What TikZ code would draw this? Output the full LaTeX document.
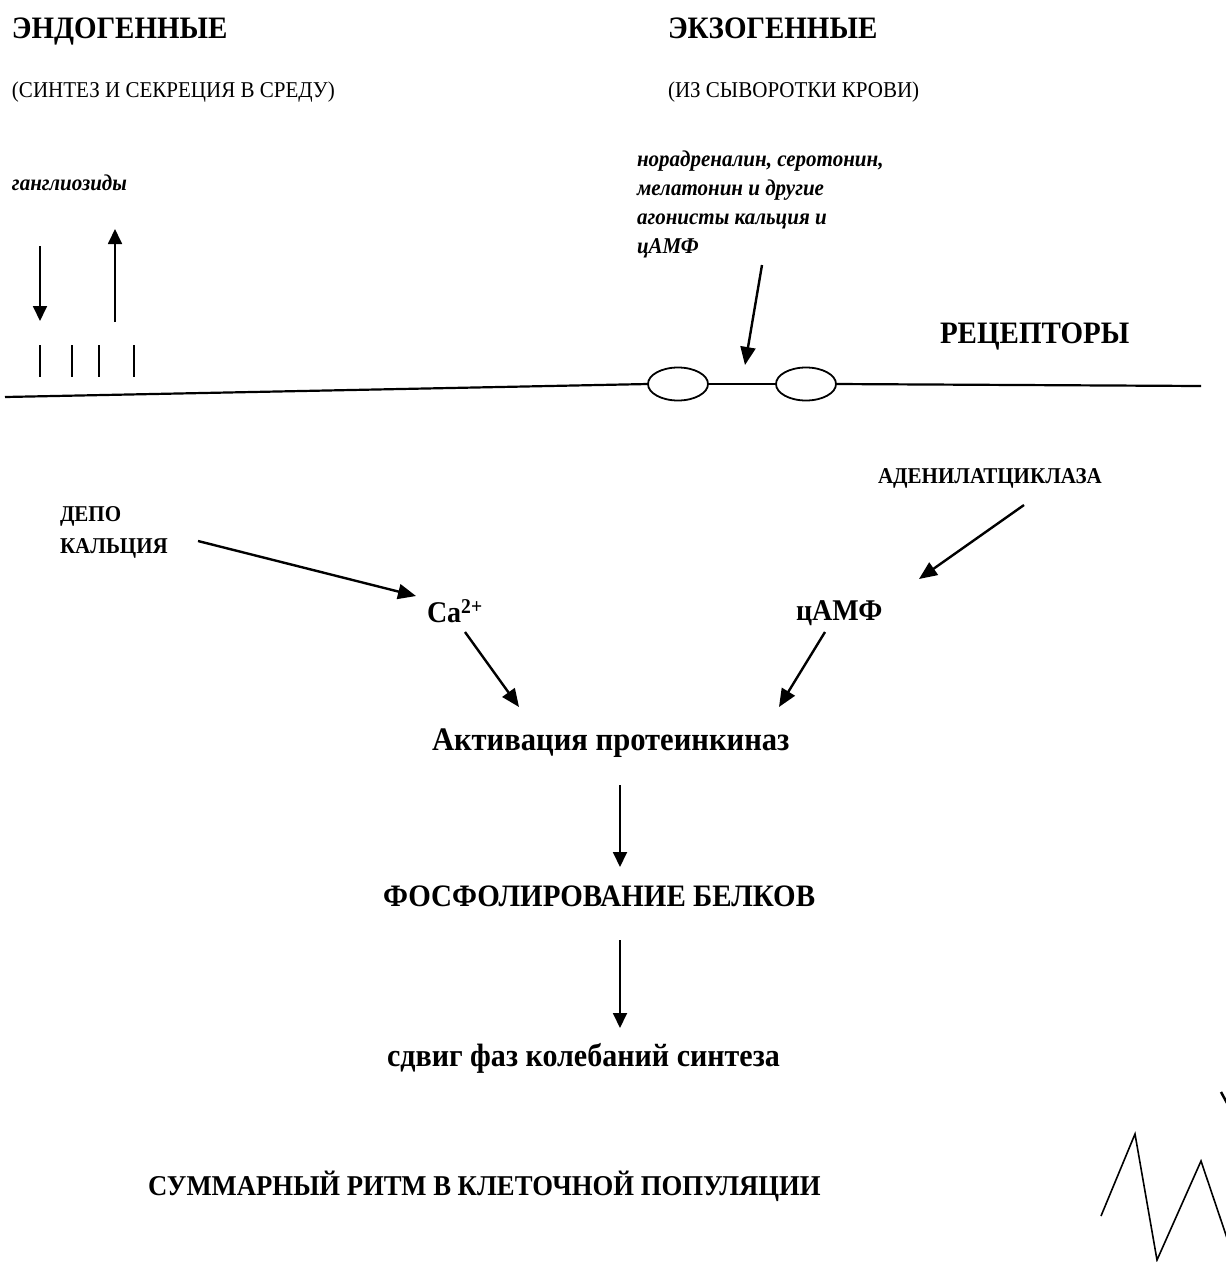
\documentclass[tikz,border=0pt]{standalone}
\usepackage{fontspec}
\setmainfont{Liberation Serif}[FakeStretch=0.93]
\usetikzlibrary{arrows.meta,shapes.geometric}
\begin{document}
\begin{tikzpicture}[x=1pt,y=-1pt,
  every node/.style={inner sep=0pt,outer sep=0pt,anchor=west},
  headtxt/.style={font=\fontsize{31.2}{36}\selectfont\bfseries},
  subtxt/.style={font=\fontsize{22.6}{27}\selectfont},
  bitxt/.style={font=\fontsize{22.6}{29}\selectfont\bfseries\itshape,align=left},
  smalltxt/.style={font=\fontsize{22.6}{32}\selectfont\bfseries,align=left},
  midtxt/.style={font=\fontsize{30.1}{36}\selectfont\bfseries},
  arr/.style={line width=2.4pt,-{Triangle[length=18pt,width=15pt]}},
  thinarr/.style={line width=1.8pt,-{Triangle[length=15pt,width=14pt]}},
  mem/.style={line width=2.2pt},
  recept/.style={draw,line width=1.8pt,ellipse,minimum width=60pt,minimum height=33pt,anchor=center}]
\fill[white] (0,0) rectangle (1226,1262);
\useasboundingbox (0,0) rectangle (1226,1262);

% headings
\node[headtxt,anchor=base west] (endo) at (12,38) {ЭНДОГЕННЫЕ};
\node[headtxt,anchor=base west] (exo) at (668,38) {ЭКЗОГЕННЫЕ};
\node[subtxt,anchor=base west] (endosub) at (12,97) {(СИНТЕЗ И СЕКРЕЦИЯ В СРЕДУ)};
\node[subtxt,anchor=base west] (exosub) at (668,97) {(ИЗ СЫВОРОТКИ КРОВИ)};

% gangliosides
\node[bitxt] (gang) at (12,183) {ганглиозиды};
\coordinate (dA) at (40,246);
\coordinate (dB) at (40,321);
\coordinate (uA) at (115,322);
\coordinate (uB) at (115,229);
\draw[thinarr] (dA) -- (dB);
\draw[thinarr] (uA) -- (uB);
\foreach \i/\x in {1/40,2/72,3/99,4/134}{
  \coordinate (t\i a) at (\x,345);
  \coordinate (t\i b) at (\x,377);
  \draw[line width=1.8pt] (t\i a) -- (t\i b);
}

% exogenous agonists
\node[bitxt,anchor=north west] (agon) at (637,151) {норадреналин, серотонин,\\мелатонин и другие\\агонисты кальция и\\цАМФ};
\coordinate (agA) at (762,265);
\coordinate (agB) at (745,365);
\draw[arr] (agA) -- (agB);

\node[headtxt] (rec) at (940,336) {РЕЦЕПТОРЫ};

% membrane with receptors
\node[recept] (r1) at (678,384) {};
\node[recept] (r2) at (806,384) {};
\coordinate (mL) at (5,397);
\coordinate (mR) at (1201,386);
\draw[mem] (mL) -- (r1.west);
\draw[mem] (r1.east) -- (r2.west);
\draw[mem] (r2.east) -- (mR);

% second messengers
\node[smalltxt] (aden) at (878,478) {АДЕНИЛАТЦИКЛАЗА};
\node[smalltxt,anchor=north west] (depo) at (60,507) {ДЕПО\\КАЛЬЦИЯ};
\node[midtxt] (ca) at (427,611) {Ca\textsuperscript{2+}};
\node[midtxt] (camp) at (796,613) {цАМФ};
\coordinate (dpA) at (198,541);
\coordinate (dpB) at (416,596);
\draw[arr] (dpA) -- (dpB);
\coordinate (adA) at (1024,505);
\coordinate (adB) at (919,579);
\draw[arr] (adA) -- (adB);

\node[midtxt,font=\fontsize{32.9}{38}\selectfont\bfseries] (akt) at (432,743) {Активация протеинкиназ};
\coordinate (caA) at (465,632);
\coordinate (caB) at (519,707);
\draw[arr] (caA) -- (caB);
\coordinate (cmA) at (825,632);
\coordinate (cmB) at (779,707);
\draw[arr] (cmA) -- (cmB);

\coordinate (k1) at (620,785);
\coordinate (k2) at (620,867);
\draw[thinarr] (k1) -- (k2);
\node[headtxt] (phos) at (383,896) {ФОСФОЛИРОВАНИЕ БЕЛКОВ};
\coordinate (p1) at (620,940);
\coordinate (p2) at (620,1028);
\draw[thinarr] (p1) -- (p2);
\node[midtxt,font=\fontsize{32.3}{38}\selectfont\bfseries] (shift) at (387,1058) {сдвиг фаз колебаний синтеза};

\node[headtxt,font=\fontsize{28.7}{34}\selectfont\bfseries] (sum) at (148,1186) {СУММАРНЫЙ РИТМ В КЛЕТОЧНОЙ ПОПУЛЯЦИИ};

% rhythm zigzag
\coordinate (z1) at (1101,1216);
\coordinate (z2) at (1135,1134);
\coordinate (z3) at (1157,1260);
\coordinate (z4) at (1201,1161);
\coordinate (z5) at (1227,1238);
\draw[line width=1.6pt] (z1) -- (z2) -- (z3) -- (z4) -- (z5);
\coordinate (v1) at (1221,1092);
\coordinate (v2) at (1227,1103);
\draw[line width=2.5pt] (v1) -- (v2);
\end{tikzpicture}
\end{document}
